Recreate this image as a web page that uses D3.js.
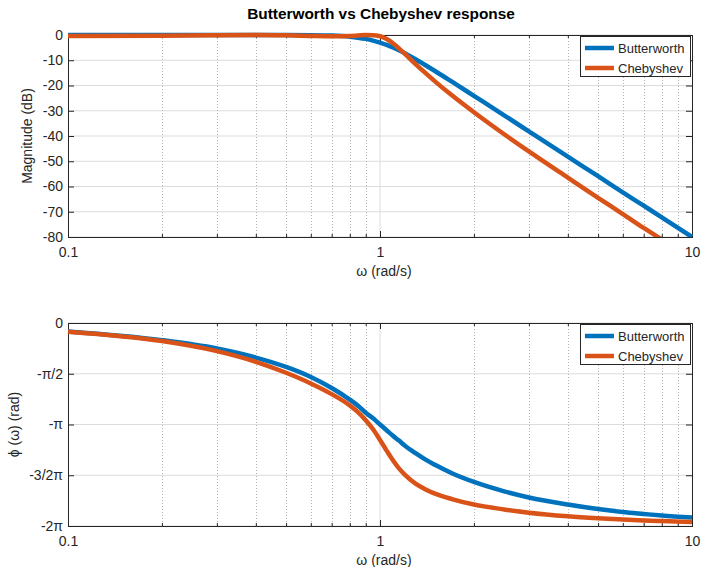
<!DOCTYPE html>
<html>
<head>
<meta charset="utf-8">
<script src="https://cdn.jsdelivr.net/npm/d3@7"></script>
<style>
  body { margin: 0; background: #fff; }
  svg { font-family: "Liberation Sans", Arial, sans-serif; }
  .tick text { fill: #262626; }
</style>
</head>
<body>
<svg id="chart" width="703" height="567"></svg>
<script>
var omega = [0.1, 0.2, 0.3, 0.4, 0.5, 0.6, 0.7, 0.8, 0.85, 0.9, 0.95, 1, 1.05, 1.1, 1.15, 1.2, 1.3, 1.4, 1.5, 1.7, 2, 2.5, 3, 4, 5, 6, 7, 8, 10];

var butterMag = [0, 0, 0, 0, -0.02, -0.07, -0.24, -0.67, -1.05, -1.55, -2.21, -3.01, -3.94, -4.97, -6.08, -7.24, -9.62, -11.98, -14.25, -18.5, -24.1, -31.8, -38.2, -48.2, -55.9, -62.3, -67.6, -72.2, -80];
var chebMag = [-0.43, -0.25, -0.06, 0, -0.13, -0.36, -0.5, -0.36, -0.19, -0.03, -0.05, -0.5, -1.59, -3.27, -5.28, -7.4, -11.5, -15.1, -18.35, -23.9, -30.6, -39.3, -46.1, -56.5, -64.5, -70.9, -76.4, -81.0, -88.8];

var butterPhase = [-0.26, -0.53, -0.79, -1.07, -1.36, -1.67, -2.01, -2.37, -2.56, -2.78, -2.95, -3.14, -3.32, -3.49, -3.64, -3.79, -4.03, -4.23, -4.39, -4.65, -4.92, -5.21, -5.40, -5.62, -5.76, -5.85, -5.91, -5.96, -6.02];
var chebPhase = [-0.27, -0.56, -0.87, -1.20, -1.54, -1.87, -2.20, -2.55, -2.76, -3.01, -3.29, -3.62, -3.95, -4.25, -4.50, -4.69, -4.97, -5.15, -5.28, -5.45, -5.62, -5.77, -5.87, -5.98, -6.04, -6.08, -6.11, -6.13, -6.16];

var seriesNames = ["Butterworth", "Chebyshev"];
var seriesColors = ["#0072BD", "#D95319"];

var magTicks = [0, -10, -20, -30, -40, -50, -60, -70, -80];
var phaseTicks = [0, -Math.PI / 2, -Math.PI, -3 * Math.PI / 2, -2 * Math.PI];
var phaseLabels = ["0", "-π/2", "-π", "-3/2π", "-2π"];
var xMajor = [0.1, 1, 10];
var xMinor = [0.2, 0.3, 0.4, 0.5, 0.6, 0.7, 0.8, 0.9, 2, 3, 4, 5, 6, 7, 8, 9];

var svg = d3.select("#chart");
var left = 68, right = 692;

var x = d3.scaleLog().domain([0.1, 10]).range([left, right]);

function panel(opts) {
  var y = d3.scaleLinear().domain(opts.domain).range([opts.bottom, opts.top]);
  var g = svg.append("g");
  var id = "clip" + opts.top;

  g.append("clipPath").attr("id", id)
    .append("rect").attr("x", left - 4).attr("y", opts.top - 4)
    .attr("width", right - left + 8).attr("height", opts.bottom - opts.top + 4);

  // grid
  g.selectAll(".gy").data(opts.ticks).enter().append("line")
    .attr("x1", left).attr("x2", right)
    .attr("y1", function(d) { return y(d); }).attr("y2", function(d) { return y(d); })
    .attr("stroke", "#dcdcdc").attr("stroke-width", 1);
  g.selectAll(".gxm").data(xMinor).enter().append("line")
    .attr("x1", function(d) { return Math.round(x(d)) + 0.5; }).attr("x2", function(d) { return Math.round(x(d)) + 0.5; })
    .attr("y1", opts.top).attr("y2", opts.bottom)
    .attr("stroke", "#b4b4b4").attr("stroke-width", 1).attr("stroke-dasharray", "1,2");
  g.append("line")
    .attr("x1", x(1)).attr("x2", x(1)).attr("y1", opts.top).attr("y2", opts.bottom)
    .attr("stroke", "#dcdcdc").attr("stroke-width", 1);

  // axes (box with inward ticks)
  var axB = d3.axisBottom(x).tickValues(xMajor).tickSize(-6).tickPadding(10)
    .tickFormat(function(d) { return d3.format("")(d); });
  g.append("g").attr("transform", "translate(0," + opts.bottom + ")").call(axB)
    .call(function(s) { s.selectAll("text").attr("font-size", 14); });
  g.append("g").attr("transform", "translate(0," + opts.bottom + ")")
    .call(d3.axisBottom(x).tickValues(xMinor).tickSize(-3).tickFormat(""));
  g.append("g").attr("transform", "translate(0," + opts.top + ")")
    .call(d3.axisTop(x).tickValues(xMajor).tickSize(-6).tickFormat(""));
  g.append("g").attr("transform", "translate(0," + opts.top + ")")
    .call(d3.axisTop(x).tickValues(xMinor).tickSize(-3).tickFormat(""));

  var axL = d3.axisLeft(y).tickValues(opts.ticks).tickSize(-6).tickPadding(5)
    .tickFormat(function(d, i) { return opts.labels[i]; });
  g.append("g").attr("transform", "translate(" + left + ",0)").call(axL)
    .call(function(s) { s.selectAll("text").attr("font-size", 14); });
  g.append("g").attr("transform", "translate(" + right + ",0)")
    .call(d3.axisRight(y).tickValues(opts.ticks).tickSize(-6).tickFormat(""));

  g.selectAll(".domain").attr("stroke", "#262626");
  g.selectAll(".tick line").attr("stroke", "#262626");

  // curves
  var line = d3.line()
    .x(function(d) { return x(d[0]); })
    .y(function(d) { return y(d[1]); })
    .curve(d3.curveMonotoneX);
  opts.series.forEach(function(vals, i) {
    g.append("path")
      .datum(omega.map(function(w, j) { return [w, vals[j]]; }))
      .attr("clip-path", "url(#" + id + ")")
      .attr("fill", "none")
      .attr("stroke", seriesColors[i])
      .attr("stroke-width", 4.5)
      .attr("stroke-linejoin", "round")
      .attr("d", line);
  });

  // legend
  var lg = g.append("g").attr("transform", "translate(580," + (opts.top + 1) + ")");
  lg.append("rect").attr("x", 0.5).attr("y", 0.5).attr("width", 110).attr("height", 40)
    .attr("fill", "#fff").attr("stroke", "#262626").attr("stroke-width", 1);
  seriesNames.forEach(function(name, i) {
    var cy = 12 + i * 20;
    lg.append("line").attr("x1", 5).attr("x2", 34).attr("y1", cy).attr("y2", cy)
      .attr("stroke", seriesColors[i]).attr("stroke-width", 4.5);
    lg.append("text").attr("x", 38).attr("y", cy + 4.5).attr("font-size", 13)
      .attr("fill", "#262626").text(name);
  });

  // axis labels
  svg.append("text").attr("x", (left + right) / 2 + 4).attr("y", opts.bottom + 39)
    .attr("text-anchor", "middle").attr("font-size", 14).attr("fill", "#262626")
    .text("ω (rad/s)");
  svg.append("text")
    .attr("transform", "translate(" + opts.ylabX + "," + ((opts.top + opts.bottom) / 2) + ") rotate(-90)")
    .attr("text-anchor", "middle").attr("font-size", 14).attr("fill", "#262626")
    .text(opts.ylabel);
}

panel({
  top: 35, bottom: 237, domain: [-80, 0], ticks: magTicks,
  labels: magTicks.map(String), ylabel: "Magnitude (dB)", ylabX: 32,
  series: [butterMag, chebMag]
});
panel({
  top: 323, bottom: 526, domain: [-2 * Math.PI, 0], ticks: phaseTicks,
  labels: phaseLabels, ylabel: "ϕ (ω) (rad)", ylabX: 19,
  series: [butterPhase, chebPhase]
});

svg.append("text").attr("x", 381).attr("y", 19).attr("text-anchor", "middle")
  .attr("font-size", 15.4).attr("font-weight", "bold").attr("fill", "#000")
  .text("Butterworth vs Chebyshev response");
</script>
</body>
</html>
